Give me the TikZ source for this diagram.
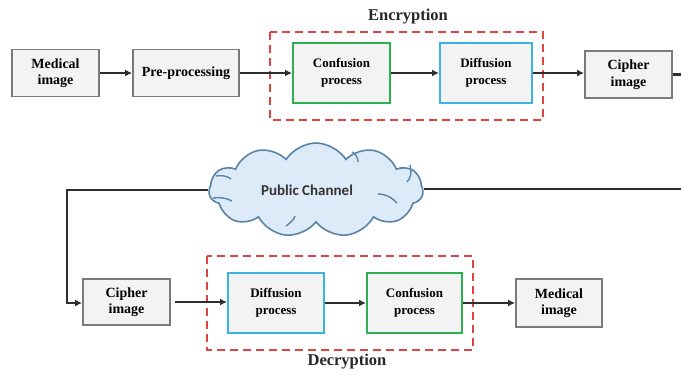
\documentclass[tikz,border=0pt]{standalone}
\usepackage{fontspec}
\setmainfont{Liberation Serif}
\newfontfamily\cloudfont{Carlito}
\usetikzlibrary{shapes.symbols,arrows.meta,positioning}

\definecolor{boxfill}{HTML}{F3F3F3}
\definecolor{boxline}{HTML}{7A7A7A}
\definecolor{confgreen}{HTML}{2DB04F}
\definecolor{diffcyan}{HTML}{3AB2E6}
\definecolor{groupred}{HTML}{E04343}
\definecolor{cloudfill}{HTML}{DDEAF8}
\definecolor{cloudline}{HTML}{5A83A8}
\definecolor{wire}{HTML}{2E2E2E}

\tikzset{
  greybox/.style={draw=boxline, line width=1.8pt, fill=boxfill, align=center,
    inner sep=0pt, font=\fontsize{14}{16.5}\selectfont\bfseries},
  procbox/.style={line width=2pt, fill=boxfill, align=center, inner sep=0pt,
    minimum width=94pt, minimum height=60pt,
    font=\fontsize{13}{17}\selectfont\bfseries},
  confbox/.style={procbox, draw=confgreen},
  diffbox/.style={procbox, draw=diffcyan},
  groupbox/.style={draw=groupred, line width=2.4pt, dash pattern=on 8pt off 5pt},
  flow/.style={draw=wire, line width=2pt, -{Latex[length=7pt,width=7pt]}},
  channel/.style={draw=wire, line width=2.6pt},
  crease/.style={cloudline, line width=1.4pt},
  grouplabel/.style={font=\fontsize{16.5}{18}\selectfont\bfseries, text=black!85}
}

\begin{document}
\begin{tikzpicture}[x=1pt,y=-1pt]
\useasboundingbox (0,0) rectangle (681,373);

% encryption chain
\node[greybox, minimum width=87pt, minimum height=47pt] (med1) at (55.5,73) {Medical\\image};
\node[greybox, minimum width=106pt, minimum height=47pt] (pre) at (186,73) {Pre-processing};
\node[confbox, minimum width=97pt] (conf1) at (341.5,73) {Confusion\\process};
\node[diffbox, minimum width=92pt] (diff1) at (486,73) {Diffusion\\process};
\node[greybox, minimum width=87pt, minimum height=47pt] (ciph1) at (628.5,74.5) {Cipher\\image};
\coordinate (outR) at (681,74.5);

\draw[groupbox] (270,32) rectangle (543,120);
\node[grouplabel] (enc) at (408,17) {Encryption};

% public channel
\node[cloud, cloud puffs=11, cloud puff arc=115, aspect=2.3, draw=cloudline,
  line width=1.6pt, fill=cloudfill, minimum width=214pt, minimum height=94pt,
  inner sep=0pt] (cloud) at (316,190) {};
\node[font=\cloudfont\fontsize{15}{17}\selectfont\bfseries, text=black!80] (pc) at (307,190) {Public Channel};
% inner puff creases
\draw[crease] (213,198) .. controls (220,197) and (227,198) .. (232,201);
\draw[crease] (216,176) .. controls (222,175) and (227,176) .. (231,179);
\draw[crease] (378,194) .. controls (386,194) and (393,198) .. (397,203);
\draw[crease] (410,165) .. controls (412,172) and (411,178) .. (407,182);
\draw[crease] (352,152) .. controls (356,154) and (358,158) .. (358,162);
\draw[crease] (286,226) .. controls (290,223) and (294,220) .. (295,216);

% decryption chain
\node[greybox, minimum width=87pt, minimum height=46pt] (ciph2) at (126.5,302) {Cipher\\image};
\node[diffbox, minimum width=96pt] (diff2) at (276,303) {Diffusion\\process};
\node[confbox, minimum width=95pt] (conf2) at (414.5,303) {Confusion\\process};
\node[greybox, minimum width=86pt, minimum height=48pt] (med2) at (559,303) {Medical\\image};

\draw[groupbox] (207,256) rectangle (473,350);
\node[grouplabel] (dec) at (347,362) {Decryption};

\coordinate (chL) at (67,190);
\coordinate (chR) at (681,189);
\coordinate (dropL) at (67,303);

% connectors
\draw[flow] (med1) -- (pre);
\draw[flow] (pre) -- (conf1);
\draw[flow] (conf1) -- (diff1);
\draw[flow] (diff1.east) -- (ciph1.west |- diff1.east);
\draw[channel] (ciph1.east) -- (outR);
\draw[channel] (cloud.east |- chR) -- (chR);
\draw[channel] (cloud.west |- chL) -- (chL) -- (dropL);
\draw[flow, line width=2.2pt] (chL) -- (dropL) -- (ciph2.west |- dropL);
\draw[flow] ([xshift=4pt]ciph2.east) -- (diff2.west |- ciph2.east);
\draw[flow] (diff2) -- (conf2);
\draw[flow] (conf2) -- (med2);
\end{tikzpicture}
\end{document}
